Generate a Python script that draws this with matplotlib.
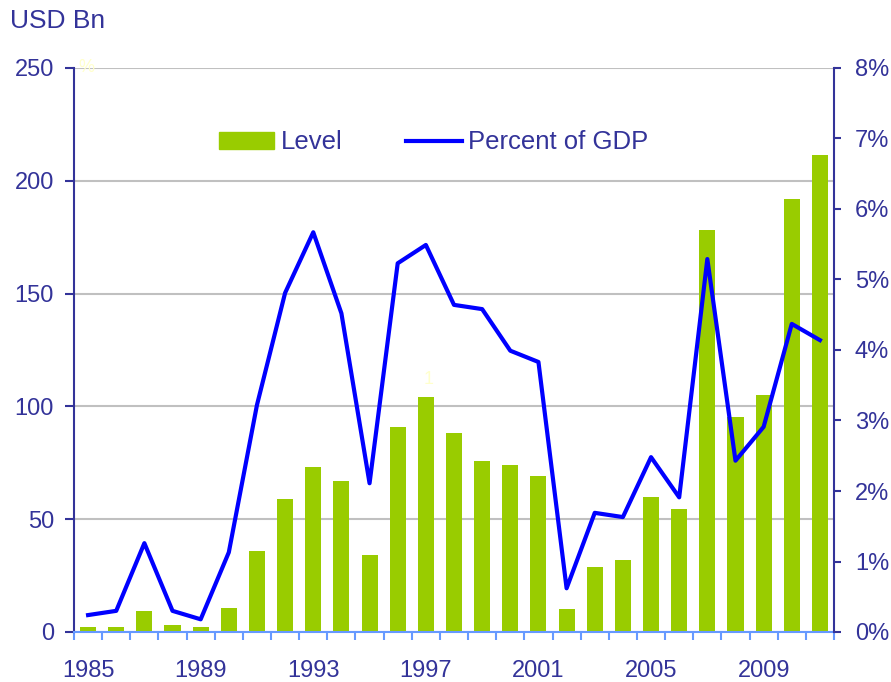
import numpy as np
import matplotlib.pyplot as plt
from matplotlib.patches import Patch
from matplotlib.lines import Line2D

plt.rcParams['font.family'] = ['Liberation Sans', 'DejaVu Sans']

years = list(range(1985, 2012))
level = [2, 2, 9.5, 3, 2, 10.5, 36, 59, 73, 67, 34, 91, 104, 88, 76, 74, 69,
         10, 29, 32, 60, 54.5, 178, 95.5, 105, 192, 211.5]
pct_gdp = [0.24, 0.30, 1.26, 0.30, 0.18, 1.13, 3.22, 4.81, 5.67, 4.52, 2.11,
           5.23, 5.49, 4.64, 4.58, 3.99, 3.83, 0.62, 1.69, 1.63, 2.48, 1.91,
           5.29, 2.43, 2.91, 4.37, 4.14]
left_ticks = [0, 50, 100, 150, 200, 250]
right_ticks = [0, 1, 2, 3, 4, 5, 6, 7, 8]
label_years = [1985, 1989, 1993, 1997, 2001, 2005, 2009]

navy = '#333399'
green = '#99CC00'
blue = '#0000FF'

fig = plt.figure(figsize=(8.91, 6.82), dpi=100)
ax = fig.add_axes([74 / 891, 50 / 682, 760 / 891, 564 / 682])
x = np.arange(len(years))
ax.bar(x, level, width=0.57, color=green, zorder=2)
ax.set_xlim(-0.5, len(years) - 0.5)
ax.set_ylim(0, 250)
ax.set_yticks(left_ticks)
ax.yaxis.grid(True, color='#C0C0C0', linewidth=1.5, zorder=0)
ax.set_axisbelow(True)

ax.set_xticks([years.index(y) for y in label_years])
ax.set_xticklabels([str(y) for y in label_years])
ax.set_xticks(np.arange(len(years) + 1) - 0.5, minor=True)
ax.tick_params(axis='x', which='major', length=0, pad=20, labelsize=17, labelcolor=navy)
ax.tick_params(axis='x', which='minor', length=6, width=1.5, color='#6699FF', direction='out')
ax.tick_params(axis='y', length=6.5, width=1.5, color=navy, labelsize=17, labelcolor=navy, pad=8)

for s in ['top', 'right']:
    ax.spines[s].set_visible(False)
ax.spines['left'].set_color(navy)
ax.spines['left'].set_linewidth(1.5)
ax.spines['bottom'].set_color('#6699FF')
ax.spines['bottom'].set_linewidth(1.5)

ax2 = ax.twinx()
ax2.plot(x, pct_gdp, color=blue, linewidth=3, zorder=3)
ax2.set_ylim(0, 8)
ax2.set_yticks(right_ticks)
ax2.set_yticklabels([f'{v}%' for v in right_ticks])
ax2.tick_params(axis='y', length=5, width=1.5, color=navy, labelsize=17, labelcolor=navy, pad=10)
for s in ['top', 'left', 'bottom']:
    ax2.spines[s].set_visible(False)
ax2.spines['right'].set_color(navy)
ax2.spines['right'].set_linewidth(1.5)

handles = [Patch(color=green), Line2D([0], [0], color=blue, linewidth=3)]
ax2.legend(handles, ['Level', 'Percent of GDP'], ncol=2, frameon=False,
           loc='center left', bbox_to_anchor=(0.16, 0.868), fontsize=18.5,
           labelcolor=navy, handlelength=2.15, handleheight=0.65,
           handletextpad=0.25, columnspacing=2.5)

fig.text(10 / 891, 1 - 21 / 682, 'USD Bn', fontsize=19, color=navy, va='center', ha='left')
fig.text(78 / 891, 1 - 68 / 682, '%', fontsize=13, color='#FFFFCC', va='center', ha='left')
ax.text(years.index(1997) + 0.1, 108, '1', fontsize=13, color='#FFFFCC', ha='center', va='bottom')

fig.savefig('out.png', dpi=100)
